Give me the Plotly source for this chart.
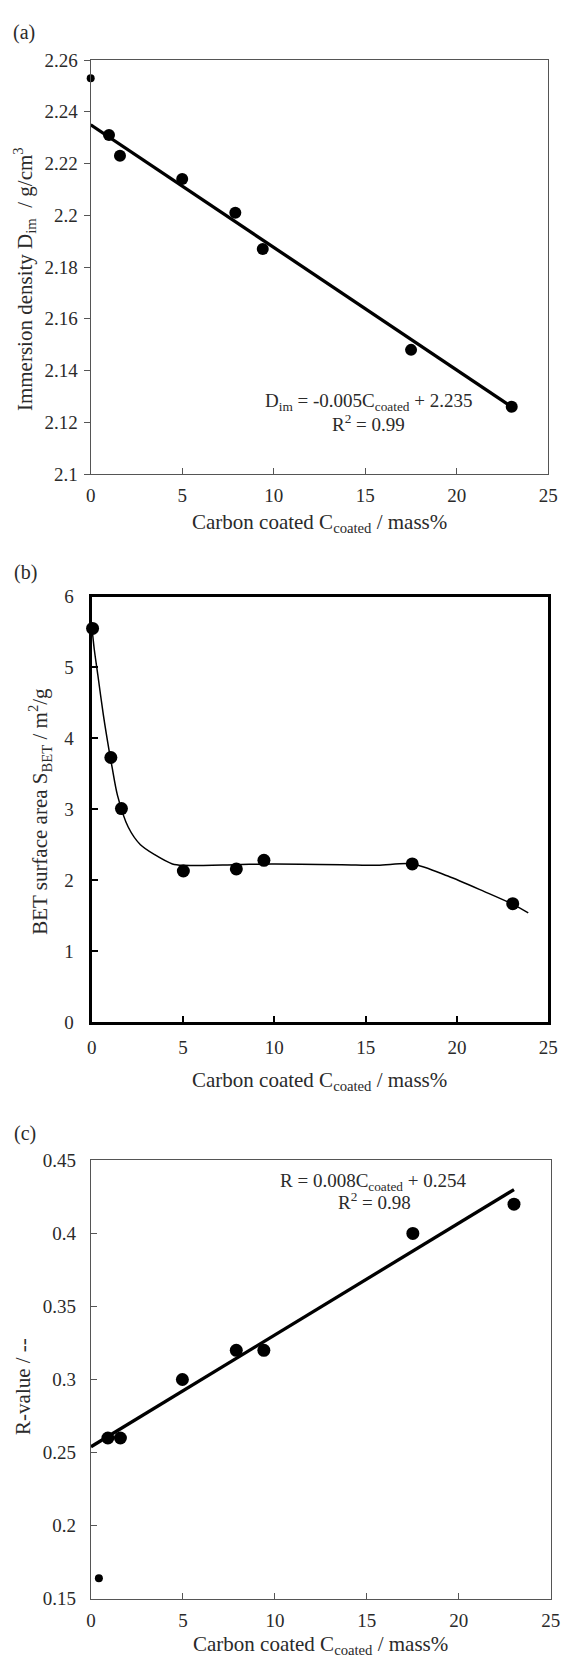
import plotly.graph_objects as go

W, H = 571, 1667

# ---------------- data ----------------
carbon_a = [0.0, 1.0, 1.6, 5.0, 7.9, 9.4, 17.5, 23.0]
density_a = [2.253, 2.231, 2.223, 2.214, 2.201, 2.187, 2.148, 2.126]
fit_a_x = [0.0, 23.0]
fit_a_y = [2.235, 2.126]

carbon_b = [0.05, 1.05, 1.63, 5.02, 7.92, 9.43, 17.55, 23.05]
bet_b = [5.55, 3.73, 3.01, 2.13, 2.16, 2.28, 2.23, 1.67]
curve_b_x = [0.0, 0.14, 0.34, 0.64, 0.96, 1.12, 1.41, 2.0, 2.67, 3.45, 4.42, 5.0,
             7.9, 9.84, 13.7, 15.66, 17.56, 19.5, 21.5, 23.06, 23.9]
curve_b_y = [5.6, 5.26, 4.89, 4.33, 3.82, 3.59, 3.2, 2.75, 2.5, 2.36, 2.23, 2.21,
             2.22, 2.23, 2.22, 2.21, 2.23, 2.06, 1.84, 1.66, 1.54]

carbon_c = [0.43, 0.92, 1.6, 4.97, 7.9, 9.4, 17.5, 23.0]
rvalue_c = [0.164, 0.26, 0.26, 0.30, 0.32, 0.32, 0.40, 0.42]
fit_c_x = [0.0, 23.0]
fit_c_y = [0.254, 0.43]

x_ticks = [0, 5, 10, 15, 20, 25]
x_ticktext = ["0", "5", "10", "15", "20", "25"]
ya_ticks = [2.1, 2.12, 2.14, 2.16, 2.18, 2.2, 2.22, 2.24, 2.26]
ya_ticktext = ["2.1", "2.12", "2.14", "2.16", "2.18", "2.2", "2.22", "2.24", "2.26"]
yb_ticks = [0, 1, 2, 3, 4, 5, 6]
yb_ticktext = ["0", "1", "2", "3", "4", "5", "6"]
yc_ticks = [0.15, 0.2, 0.25, 0.3, 0.35, 0.4, 0.45]
yc_ticktext = ["0.15", "0.2", "0.25", "0.3", "0.35", "0.4", "0.45"]

x_title = "Carbon coated C<sub>coated</sub> / mass%"
ya_title = "Immersion density D<sub>im</sub>  / g/cm<sup>3</sup>"
yb_title = "BET surface area S<sub>BET</sub> / m<sup>2</sup>/g"
yc_title = "R-value / --"
eq_a = ["D<sub>im</sub> = -0.005C<sub>coated</sub> + 2.235", "R<sup>2</sup> = 0.99"]
eq_c = ["R = 0.008C<sub>coated</sub> + 0.254", "R<sup>2</sup> = 0.98"]
panel_labels = ["(a)", "(b)", "(c)"]

# ---------------- helpers ----------------
FONT = "Liberation Serif"
TXT = "#2a2a2a"


def px(v):
    return v / W


def py(v):
    return 1 - v / H


def sizes(n, first, rest):
    return [first] + [rest] * (n - 1)


def mk(size):
    return dict(color="black", size=size, opacity=1, line=dict(width=0))


fig = go.Figure()

# (a)
fig.add_trace(go.Scatter(x=fit_a_x, y=fit_a_y, mode="lines", xaxis="x", yaxis="y",
                         line=dict(color="black", width=3.3), cliponaxis=False))
fig.add_trace(go.Scatter(x=carbon_a, y=density_a, mode="markers", xaxis="x", yaxis="y",
                         marker=mk(sizes(len(carbon_a), 8, 12)), cliponaxis=False))
# (b)
fig.add_trace(go.Scatter(x=curve_b_x, y=curve_b_y, mode="lines", xaxis="x2", yaxis="y2",
                         line=dict(color="black", width=1.5, shape="spline", smoothing=0.8),
                         cliponaxis=False))
fig.add_trace(go.Scatter(x=carbon_b, y=bet_b, mode="markers", xaxis="x2", yaxis="y2",
                         marker=mk(13), cliponaxis=False))
# (c)
fig.add_trace(go.Scatter(x=fit_c_x, y=fit_c_y, mode="lines", xaxis="x3", yaxis="y3",
                         line=dict(color="black", width=3.3), cliponaxis=False))
fig.add_trace(go.Scatter(x=carbon_c, y=rvalue_c, mode="markers", xaxis="x3", yaxis="y3",
                         marker=mk(sizes(len(carbon_c), 8, 13)), cliponaxis=False))

tickfont = dict(family=FONT, size=19, color=TXT)


def xax(domain, anchor, thick=False):
    return dict(domain=domain, anchor=anchor, range=[0, 25], tickmode="array",
                tickvals=x_ticks, ticktext=x_ticktext, ticks="inside",
                ticklen=6, tickwidth=2 if thick else 1.2,
                tickcolor="black" if thick else "#555",
                showline=True, mirror=True, linecolor="black" if thick else "#555",
                linewidth=3 if thick else 1.2, showgrid=False, zeroline=False,
                tickfont=tickfont, ticklabelstandoff=6 if thick else 4)


def yax(domain, anchor, rng, vals, text, thick=False, inside=False):
    return dict(domain=domain, anchor=anchor, range=rng, tickmode="array",
                tickvals=vals, ticktext=text,
                ticks="inside" if (thick or inside) else "outside",
                ticklen=6, tickwidth=2 if thick else 1.2,
                tickcolor="black" if thick else "#555",
                showline=True, mirror=True, linecolor="black" if thick else "#555",
                linewidth=3 if thick else 1.2, showgrid=False, zeroline=False,
                tickfont=tickfont,
                ticklabelstandoff=11 if thick else (10 if inside else 2))


fig.update_layout(
    width=W, height=H, margin=dict(l=0, r=0, t=0, b=0),
    paper_bgcolor="white", plot_bgcolor="white", showlegend=False,
    font=dict(family=FONT, size=19, color=TXT),
    xaxis=xax([px(88), px(558)], "y"),
    yaxis=yax([py(470), py(50.7)], "x", [2.1, 2.26], ya_ticks, ya_ticktext),
    xaxis2=xax([px(89), px(558)], "y2", thick=True),
    yaxis2=yax([py(1025), py(594)], "x2", [0, 6], yb_ticks, yb_ticktext, thick=True),
    xaxis3=xax([px(88.3), px(560.5)], "y3"),
    yaxis3=yax([py(1609), py(1165)], "x3", [0.15, 0.45], yc_ticks, yc_ticktext,
               inside=True),
)

ann = []


def add_text(text, x, y, size, angle=0):
    ann.append(dict(text=text, x=px(x), y=py(y), xref="paper", yref="paper",
                    xanchor="center", yanchor="middle", showarrow=False,
                    textangle=angle, font=dict(family=FONT, size=size, color=TXT)))


# panel labels
add_text(panel_labels[0], 20, 23, 20)
add_text(panel_labels[1], 21, 570, 20)
add_text(panel_labels[2], 21, 1138, 20)
# x titles
add_text(x_title, 323, 520, 21)
add_text(x_title, 323, 1085, 21)
add_text(x_title, 324, 1656, 21)
# y titles
add_text(ya_title, 20, 272, 21, -90)
add_text(yb_title, 36, 812, 21, -90)
add_text(yc_title, 19, 1394, 21, -90)
# equations
add_text(eq_a[0], 373, 397, 19)
add_text(eq_a[1], 373, 418, 19)
add_text(eq_c[0], 378, 1187, 19)
add_text(eq_c[1], 379, 1206, 19)

fig.update_layout(annotations=ann)

fig.write_html("out.html")
